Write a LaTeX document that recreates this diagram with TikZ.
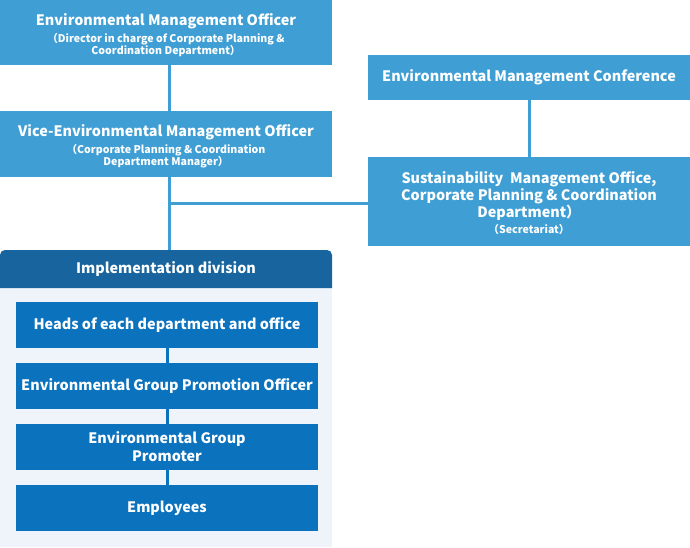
\documentclass[tikz,border=0pt]{standalone}
\usepackage{fontspec}
\setmainfont{Noto Sans CJK JP}
\definecolor{lightblue}{HTML}{3F9FD5}
\definecolor{headblue}{HTML}{17649E}
\definecolor{innerblue}{HTML}{0B72BE}
\definecolor{panelgray}{HTML}{EEF4FA}
\newcommand\bigtxt{\fontsize{14.4}{18}\selectfont\bfseries}
\newcommand\smalltxt{\fontsize{10.6}{14.5}\selectfont\bfseries}
\begin{document}
\begin{tikzpicture}[x=1pt,y=-1pt,
    orgbox/.style={fill=lightblue,text=white,inner sep=0pt,align=center,minimum width=332pt},
    boxtext/.style={text=white,align=center,inner sep=0pt},
    innerbox/.style={fill=innerblue,text=white,inner sep=0pt,align=center,minimum width=302pt,minimum height=46pt,font=\bigtxt},
    link/.style={lightblue,line width=3pt},
    innerlink/.style={innerblue,line width=3pt}]
    \useasboundingbox (0,0) rectangle (690,547);
    \fill[panelgray] (0,288) rectangle (332,547);
    \fill[headblue] (0,288) {[rounded corners=5pt] -- (0,250) -- (332,250)} -- (332,288) -- cycle;
    \node[orgbox,minimum height=65pt] (emo) at (166,32.5) {};
    \node[boxtext] (emotext) at (166,35) {{\bigtxt Environmental Management Officer}\\[3pt]
      {\smalltxt （Director in charge of Corporate Planning \&}\\{\smalltxt Coordination Department）}};
    \node[orgbox,minimum height=66pt] (vemo) at (166,144) {};
    \node[boxtext] (vemotext) at (166,146.5) {{\bigtxt Vice-Environmental Management Officer}\\[3pt]
      {\smalltxt （Corporate Planning \& Coordination}\\{\smalltxt Department Manager）}};
    \node[orgbox,minimum width=322pt,minimum height=45pt,font=\bigtxt] (emc) at (529,77.5) {Environmental Management Conference};
    \node[orgbox,minimum width=322pt,minimum height=89pt] (smo) at (529,201.5) {};
    \node[boxtext] (smotext) at (529,203) {{\bigtxt Sustainability\ \ Management Office,}\\
      {\bigtxt Corporate Planning \& Coordination}\\{\bigtxt Department）}\\[3pt]{\smalltxt （Secretariat）}};
    \node[text=white,inner sep=0pt,minimum width=332pt,minimum height=38pt,font=\bigtxt] (impl) at (166,269) {Implementation division};
    \node[innerbox] (heads) at (167,325) {Heads of each department and office};
    \node[innerbox] (egpo) at (167,386) {Environmental Group Promotion Officer};
    \node[innerbox] (egp) at (167,447) {Environmental Group\\Promoter};
    \node[innerbox] (emp) at (167,508) {Employees};
    \draw[link] ([xshift=3pt]emo.south) -- ([xshift=3pt]vemo.north);
    \draw[link] ([xshift=3pt]vemo.south) -- ([xshift=3pt]impl.north);
    \draw[link] (emc) -- (smo);
    \draw[link] ([yshift=-1.5pt]smo.west) -- ([xshift=3pt,yshift=-1.5pt]smo.west -| vemo.south);
    \draw[innerlink] (heads) -- (egpo);
    \draw[innerlink] (egpo) -- (egp);
    \draw[innerlink] (egp) -- (emp);
\end{tikzpicture}
\end{document}
